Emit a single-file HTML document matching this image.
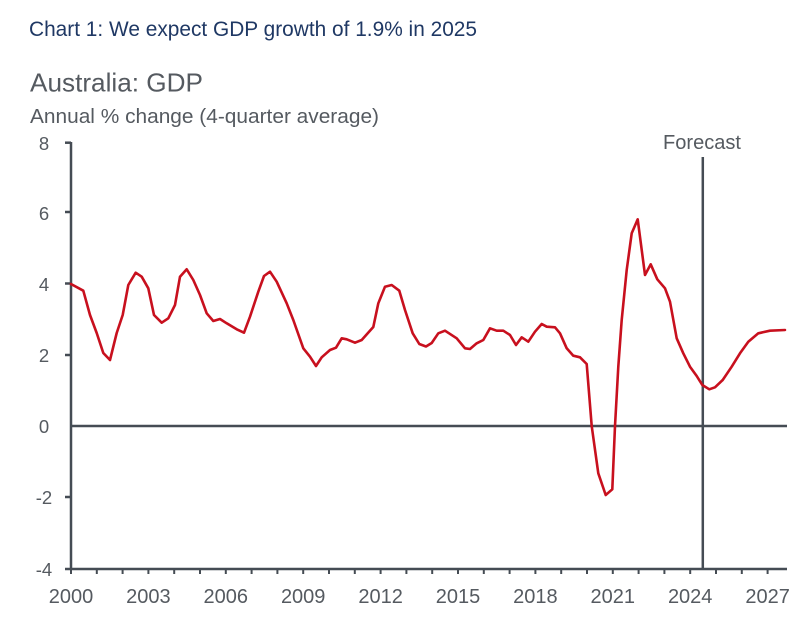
<!DOCTYPE html>
<html>
<head>
<meta charset="utf-8">
<style>
html,body{margin:0;padding:0;background:#fff;}
svg{display:block;}
text{font-family:"Liberation Sans",Arial,sans-serif;}
</style>
</head>
<body>
<svg width="809" height="623" viewBox="0 0 809 623" xmlns="http://www.w3.org/2000/svg">
<rect width="809" height="623" fill="#fff"/>
<text x="29" y="36" font-size="21" fill="#1f3864" textLength="448" lengthAdjust="spacingAndGlyphs">Chart 1: We expect GDP growth of 1.9% in 2025</text>
<text x="30" y="91.5" font-size="26" fill="#555a60" textLength="173" lengthAdjust="spacingAndGlyphs">Australia: GDP</text>
<text x="30" y="123" font-size="20.5" fill="#555a60" textLength="349" lengthAdjust="spacingAndGlyphs">Annual % change (4-quarter average)</text>
<text x="663" y="149" font-size="20" fill="#555a60" textLength="78" lengthAdjust="spacingAndGlyphs">Forecast</text>

<g fill="#555a60" font-size="18.5" text-anchor="middle">
<text x="44" y="150">8</text>
<text x="44" y="220">6</text>
<text x="44" y="291">4</text>
<text x="44" y="362">2</text>
<text x="44" y="433">0</text>
<text x="44" y="504">-2</text>
<text x="44" y="576">-4</text>
</g>

<g stroke="#454c54" stroke-width="2.5" fill="none">
<line x1="71" y1="142" x2="71" y2="570"/>
<line x1="65" y1="142.7" x2="71" y2="142.7"/>
<line x1="65" y1="212" x2="71" y2="212"/>
<line x1="65" y1="283.5" x2="71" y2="283.5"/>
<line x1="65" y1="355" x2="71" y2="355"/>
<line x1="65" y1="497" x2="71" y2="497"/>
<line x1="65" y1="569" x2="71" y2="569"/>
<line x1="70" y1="426" x2="787" y2="426"/>
<line x1="70" y1="569" x2="787" y2="569"/>
<line x1="702.8" y1="157" x2="702.8" y2="569"/>
</g>
<g stroke="#454c54" stroke-width="2">
<line x1="71" y1="569" x2="71" y2="574"/>
<line x1="96.8" y1="569" x2="96.8" y2="574"/>
<line x1="122.6" y1="569" x2="122.6" y2="574"/>
<line x1="148.4" y1="569" x2="148.4" y2="574"/>
<line x1="174.2" y1="569" x2="174.2" y2="574"/>
<line x1="200" y1="569" x2="200" y2="574"/>
<line x1="225.8" y1="569" x2="225.8" y2="574"/>
<line x1="251.6" y1="569" x2="251.6" y2="574"/>
<line x1="277.4" y1="569" x2="277.4" y2="574"/>
<line x1="303.2" y1="569" x2="303.2" y2="574"/>
<line x1="329" y1="569" x2="329" y2="574"/>
<line x1="354.8" y1="569" x2="354.8" y2="574"/>
<line x1="380.6" y1="569" x2="380.6" y2="574"/>
<line x1="406.4" y1="569" x2="406.4" y2="574"/>
<line x1="432.2" y1="569" x2="432.2" y2="574"/>
<line x1="458" y1="569" x2="458" y2="574"/>
<line x1="483.8" y1="569" x2="483.8" y2="574"/>
<line x1="509.6" y1="569" x2="509.6" y2="574"/>
<line x1="535.4" y1="569" x2="535.4" y2="574"/>
<line x1="561.2" y1="569" x2="561.2" y2="574"/>
<line x1="587" y1="569" x2="587" y2="574"/>
<line x1="612.8" y1="569" x2="612.8" y2="574"/>
<line x1="638.6" y1="569" x2="638.6" y2="574"/>
<line x1="664.4" y1="569" x2="664.4" y2="574"/>
<line x1="690.2" y1="569" x2="690.2" y2="574"/>
<line x1="716" y1="569" x2="716" y2="574"/>
<line x1="741.8" y1="569" x2="741.8" y2="574"/>
<line x1="767.6" y1="569" x2="767.6" y2="574"/>
</g>

<g fill="#555a60" font-size="20" text-anchor="middle">
<text x="71" y="603">2000</text>
<text x="148.4" y="603">2003</text>
<text x="225.8" y="603">2006</text>
<text x="303.2" y="603">2009</text>
<text x="380.6" y="603">2012</text>
<text x="458" y="603">2015</text>
<text x="535.4" y="603">2018</text>
<text x="612.8" y="603">2021</text>
<text x="690.2" y="603">2024</text>
<text x="767.6" y="603">2027</text>
</g>

<polyline fill="none" stroke="#c8101e" stroke-width="2.6" stroke-linejoin="round" stroke-linecap="round" points="
71,284 83.3,290.7 90,315 96.7,333 103.3,353 110,360 116.7,333 122.7,315 128.3,285 135.7,272.7
141.7,276.7 148.3,288.3 154,315 161.7,322.7 168.3,318.3 175,305 180,276.7 186.7,269.3 193.3,280
200,295 206.7,313.3 213.3,321 220,319 226.7,323.3 236.7,329.3 244,332.7 250,316.7 258.3,291.7
264,276 270,271.7 276.7,281.7 286.7,303.3 293.3,320 303.3,348.3 310,356.7 316,366 321.7,357.3
330,350 336,347.7 341.7,338.3 346.7,339.3 355,342.7 361.7,340 373.3,327 378.3,303.3 385,286.7
391.7,285 399.3,290.7 405,310 412.7,333.3 419.3,344 426,346.5 431.7,343 438.3,333.3 445,330.7
456.7,338.3 465,348.3 470,349 476.7,343.3 483.3,340 490,328.3 496.7,330.7 503.3,330.7 510,335
516,345 521.7,337.3 528.3,341.7 535,331.7 541.7,324 546.7,326.7 555,327.3 560,333.3 566.7,348.3
573.3,355.7 580,357.3 586.7,364 591.7,426 598.3,473.3 605.7,495 612.3,489.3 615,426 618.3,366.7
621.7,320 626.7,270 631.7,233.3 637.7,219.3 645,275 650.7,264.3 657.3,279.3 665,288.3 670,301.7
676.7,338.3 683.3,353.3 690,366.7 696.7,376 702.3,385 709.3,389.3 715,387.3 722.7,380 731.7,366.7
740,353.3 748.3,341.7 758.3,333.3 770,330.7 785,330"/>
</svg>
</body>
</html>
